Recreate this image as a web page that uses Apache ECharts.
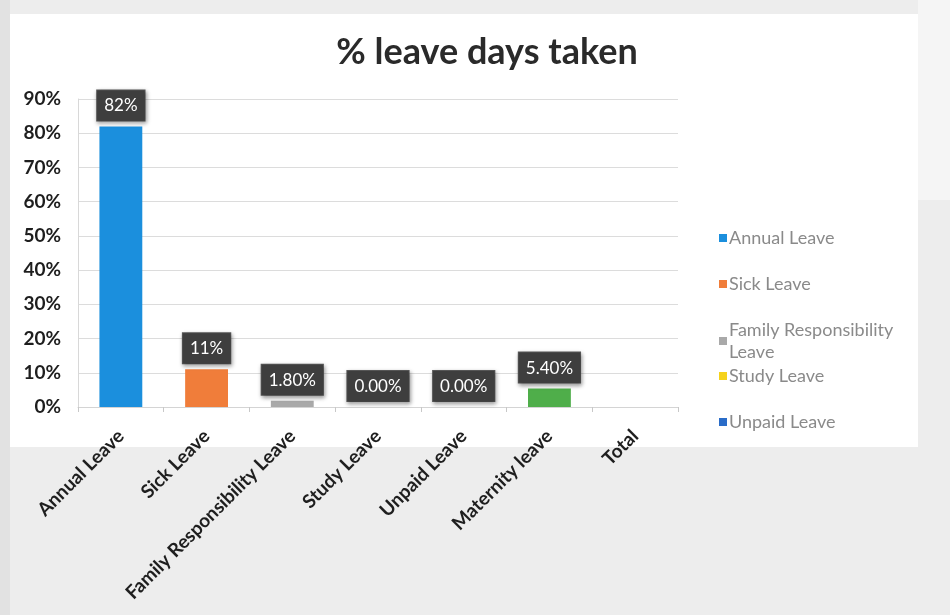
<!DOCTYPE html>
<html>
<head>
<meta charset="utf-8">
<title>% leave days taken</title>
<script src="https://cdn.jsdelivr.net/npm/echarts@6/dist/echarts.min.js"></script>
<style>
  html, body { margin: 0; padding: 0; background: #ececec; }
  #chart { width: 950px; height: 615px; }
</style>
</head>
<body>
<div id="chart"></div>
<script>
// Leave categories shown on the x axis
const categories = ['Annual Leave', 'Sick Leave', 'Family Responsibility Leave', 'Study Leave', 'Unpaid Leave', 'Maternity leave', 'Total'];
// Share of leave days taken, in percent (Total has no bar)
const values = [82, 11, 1.8, 0, 0, 5.4, null];
// Text printed above each bar
const valueLabels = ['82%', '11%', '1.80%', '0.00%', '0.00%', '5.40%', ''];
const barColors = ['#1b8fdd', '#f07d3a', '#a9a9a9', '#f5d21c', '#2a6cc8', '#4fae4a', '#999999'];
// Series shown in the legend
const legendNames = ['Annual Leave', 'Sick Leave', 'Family Responsibility Leave', 'Study Leave', 'Unpaid Leave'];
const yTicks = [0, 10, 20, 30, 40, 50, 60, 70, 80, 90];

const FONT = 'Lato, "Open Sans", sans-serif';

const series = categories.map((cat, i) => ({
  name: cat,
  type: 'bar',
  stack: 'leave',
  barWidth: '50%',
  itemStyle: { color: barColors[i] },
  data: categories.map((c, j) => (j === i && values[i] !== null ? values[i] : '-')),
  label: {
    show: values[i] !== null,
    position: 'top',
    distance: 6,
    formatter: () => valueLabels[i],
    color: '#ffffff',
    fontFamily: FONT,
    fontSize: 17,
    backgroundColor: '#3e3e3e',
    borderColor: '#5a5a5a',
    borderWidth: 1,
    padding: [7, 7, 6, 7],
    shadowColor: 'rgba(0,0,0,0.35)',
    shadowBlur: 4,
    shadowOffsetX: 1,
    shadowOffsetY: 2
  }
}));

// One legend block per entry so the rows keep an even spacing
const legendTops = [222, 268, 314, 360, 406];
const legends = legendNames.map((n, k) => ({
  data: [n],
  orient: 'vertical',
  left: 714,
  top: legendTops[k],
  icon: 'rect',
  itemWidth: 8,
  itemHeight: 8,
  itemGap: 0,
  selectedMode: false,
  textStyle: {
    color: '#8a8a8a',
    fontFamily: FONT,
    fontSize: 18,
    width: 180,
    overflow: 'break',
    lineHeight: 22,
    padding: [0, 0, 0, -3]
  }
}));

const chart = echarts.init(document.getElementById('chart'));
chart.setOption({
  animation: false,
  backgroundColor: '#ededed',
  graphic: [
    { type: 'rect', shape: { x: 918, y: 0, width: 32, height: 200 }, style: { fill: '#f5f5f5' }, z: -10 },
    { type: 'rect', shape: { x: 10, y: 14, width: 908, height: 433 }, style: { fill: '#ffffff' }, z: -10 },
    { type: 'rect', shape: { x: 0, y: 0, width: 10, height: 615 }, style: { fill: '#e2e2e2' }, z: -10 }
  ],
  title: {
    text: '% leave days taken',
    left: 482,
    textAlign: 'center',
    top: 29,
    textStyle: { fontFamily: FONT, fontSize: 36, fontWeight: 'bold', color: '#2a2a2a' }
  },
  legend: legends,
  grid: { left: 78, right: 272, top: 99, bottom: 208, containLabel: false },
  xAxis: {
    type: 'category',
    data: categories,
    axisLine: { show: true, lineStyle: { color: '#d4d4d4' } },
    axisTick: { show: true, alignWithLabel: false, length: 5, lineStyle: { color: '#c8c8c8' } },
    axisLabel: {
      interval: 0,
      rotate: 45,
      margin: 26,
      color: '#1e1e1e',
      fontFamily: FONT,
      fontSize: 19,
      fontWeight: 'bold'
    }
  },
  yAxis: {
    type: 'value',
    min: yTicks[0],
    max: yTicks[yTicks.length - 1],
    interval: 10,
    axisLine: { show: true, lineStyle: { color: '#d8d8d8' } },
    axisTick: { show: false },
    splitLine: { lineStyle: { color: '#dcdcdc' } },
    axisLabel: {
      formatter: v => v + '%',
      color: '#1e1e1e',
      fontFamily: FONT,
      fontSize: 19,
      fontWeight: 'bold',
      margin: 17
    }
  },
  series: series
});
</script>
</body>
</html>
